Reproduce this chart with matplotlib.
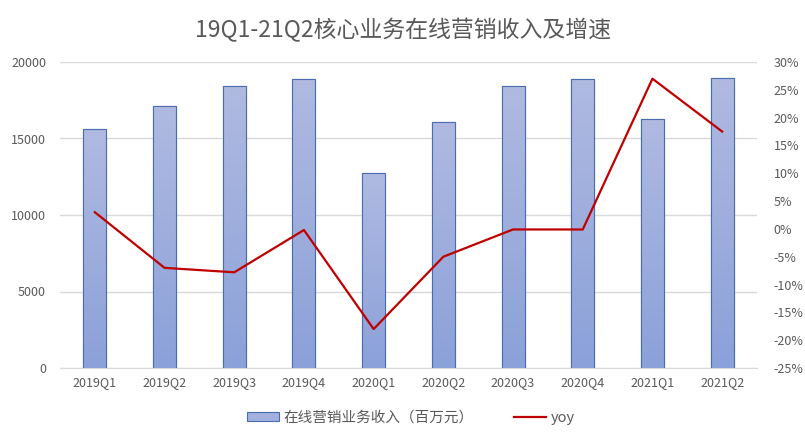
import numpy as np
import matplotlib.pyplot as plt
from matplotlib.colors import LinearSegmentedColormap
from matplotlib.ticker import FuncFormatter

plt.rcParams['font.family'] = ['Noto Sans CJK SC', 'DejaVu Sans']

quarters = ["2019Q1", "2019Q2", "2019Q3", "2019Q4", "2020Q1",
            "2020Q2", "2020Q3", "2020Q4", "2021Q1", "2021Q2"]
revenue = [15600, 17100, 18400, 18900, 12750, 16100, 18450, 18900, 16300, 18950]
yoy = [3.0, -7.0, -7.8, -0.2, -18.0, -5.0, -0.1, -0.1, 27.0, 17.5]

grey = "#595959"

fig = plt.figure(figsize=(8.05, 4.38), dpi=100)
ax = fig.add_axes([60 / 805, 70 / 438, 697 / 805, 306 / 438])
ax2 = ax.twinx()

x = range(len(quarters))
bars = ax.bar(x, revenue, width=0.33, color="#a2b1de", edgecolor="#4a6cb0",
              linewidth=0.8, label="在线营销业务收入（百万元）", zorder=2)

# vertical gradient fill per bar (light at top, darker at base)
cmap = LinearSegmentedColormap.from_list("grad", ["#8ba1d9", "#b0bae1"])
grad = np.linspace(0, 1, 256).reshape(-1, 1)
for b in bars:
    x0, w, h = b.get_x(), b.get_width(), b.get_height()
    im = ax.imshow(grad, cmap=cmap, aspect="auto", origin="lower",
                   extent=(x0, x0 + w, 0, h), zorder=2.1)
    im.set_clip_path(b)
    ax.bar(x0 + w / 2, h, width=w, fill=False, edgecolor="#4a6cb0",
           linewidth=0.8, zorder=2.2)

line, = ax2.plot(x, yoy, color="#c00000", linewidth=1.6, label="yoy", zorder=3)

ax.set_xlim(-0.5, len(quarters) - 0.5)
ax.set_ylim(0, 20000)
ax.set_yticks(range(0, 20001, 5000))
ax.grid(axis="y", color="#d9d9d9", linewidth=1, zorder=0)
ax.set_axisbelow(True)
ax.set_xticks(list(x))
ax.set_xticklabels(quarters)

ax2.set_ylim(-25, 30)
ax2.set_yticks(range(-25, 31, 5))
ax2.yaxis.set_major_formatter(FuncFormatter(lambda v, p: f"{v:.0f}%"))

for a in (ax, ax2):
    for s in a.spines.values():
        s.set_visible(False)
    a.tick_params(length=0, colors=grey, labelsize=9)
ax.spines["bottom"].set_visible(True)
ax.spines["bottom"].set_color("#d9d9d9")
ax.tick_params(axis="y", pad=10)
ax2.tick_params(axis="y", pad=12)
ax.tick_params(axis="x", pad=6)

fig.suptitle("19Q1-21Q2核心业务在线营销收入及增速", y=0.96, fontsize=16.5, color=grey)

fig.legend(handles=[bars, line], loc="lower center", bbox_to_anchor=(0.51, 0.0),
           ncol=2, frameon=False, fontsize=10.5, labelcolor=grey,
           handlelength=2.2, handletextpad=0.3, columnspacing=2.8, handleheight=0.6)

fig.savefig("out.png", dpi=100)
